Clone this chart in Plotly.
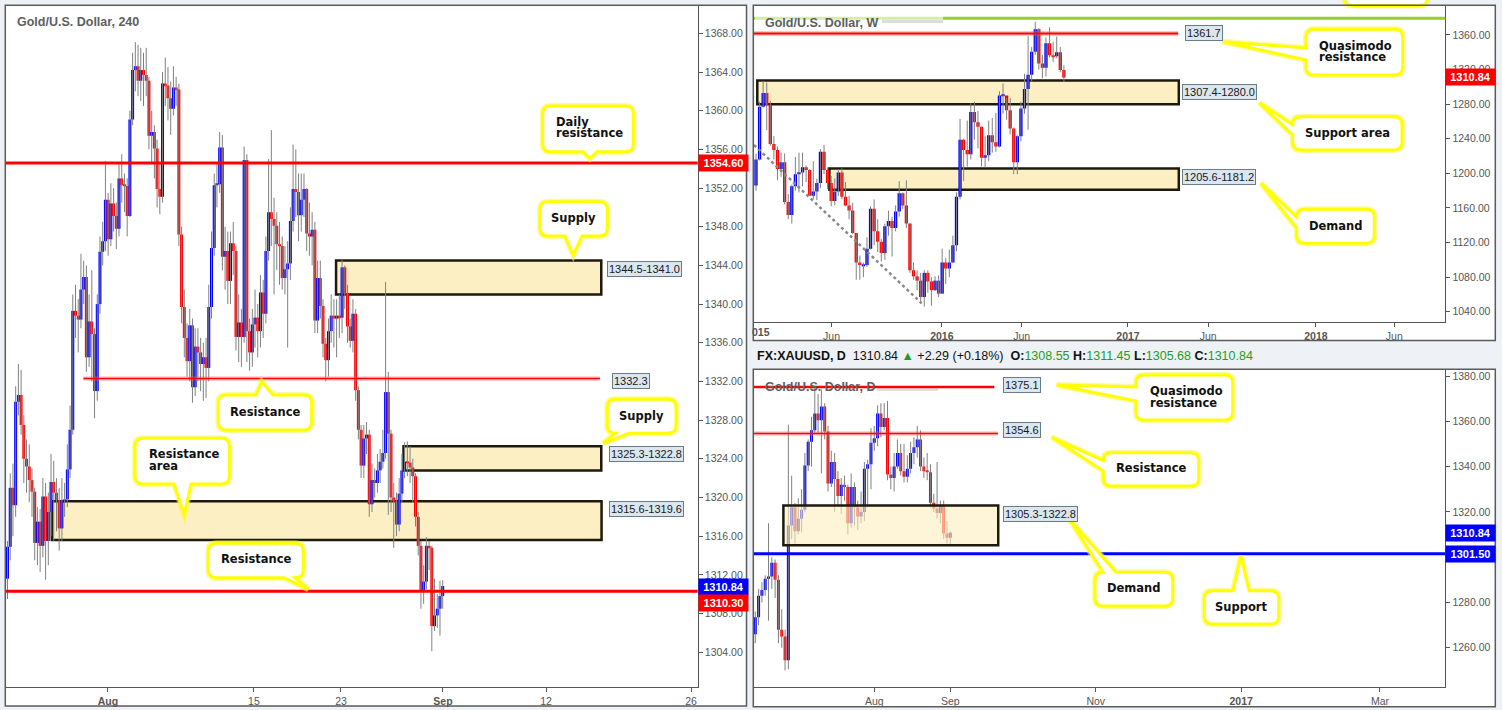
import plotly.graph_objects as go

W, H = 1502, 710

# ======================= DATA =======================
# ---- 4H chart (Gold/U.S. Dollar, 240) ----
h4_first_open = 1311.6
h4_close = [1314.9, 1321.0, 1319.2, 1329.9, 1330.6, 1327.5, 1324.0, 1323.2, 1321.8, 1320.6,
            1315.3, 1317.5, 1315.0, 1320.1, 1315.5, 1318.5, 1321.6, 1320.5, 1319.7, 1316.8,
            1319.6, 1319.8, 1322.9, 1327.0, 1339.3, 1338.8, 1338.4, 1341.5, 1342.8, 1334.5,
            1338.2, 1336.9, 1331.0, 1340.0, 1345.4, 1346.5, 1350.8, 1346.7, 1350.4, 1349.1,
            1347.8, 1353.0, 1352.3, 1352.2, 1349.1, 1359.1, 1364.2, 1364.6, 1363.1, 1364.2,
            1363.7, 1363.1, 1357.4, 1357.8, 1356.1, 1351.9, 1351.1, 1362.8, 1362.6, 1361.3,
            1360.2, 1362.4, 1362.2, 1347.2, 1339.7, 1336.5, 1334.1, 1337.8, 1331.4, 1335.6,
            1335.0, 1333.8, 1334.5, 1333.4, 1339.7, 1345.8, 1352.3, 1352.4, 1356.2, 1344.9,
            1345.5, 1342.4, 1346.3, 1345.5, 1336.6, 1338.1, 1336.6, 1354.9, 1337.2, 1335.0,
            1337.9, 1338.6, 1337.2, 1341.2, 1339.0, 1345.5, 1349.5, 1348.8, 1348.1, 1346.2,
            1346.0, 1342.7, 1343.6, 1344.2, 1348.6, 1351.9, 1351.6, 1349.2, 1350.8, 1351.9,
            1347.3, 1347.0, 1347.7, 1338.3, 1342.7, 1339.8, 1335.9, 1334.2, 1337.2, 1338.8,
            1338.5, 1338.8, 1338.6, 1343.8, 1341.1, 1337.7, 1336.2, 1339.0, 1331.1, 1327.0,
            1323.3, 1326.1, 1326.5, 1319.3, 1321.8, 1321.5, 1322.8, 1323.7, 1324.6, 1330.9,
            1326.6, 1320.0, 1319.6, 1317.2, 1320.4, 1322.8, 1323.7, 1323.6, 1323.1, 1322.2,
            1318.0, 1315.0, 1310.4, 1311.3, 1315.0, 1314.8, 1306.7, 1307.8, 1308.5, 1309.8,
            1310.84]
h4_high = [1315.5, 1322.5, 1323.5, 1331.5, 1333.8, 1333.2, 1328.5, 1326.0, 1325.5, 1323.0,
           1321.0, 1319.0, 1318.8, 1322.0, 1321.5, 1320.5, 1324.5, 1323.8, 1322.0, 1321.0,
           1322.0, 1321.5, 1325.5, 1329.5, 1341.0, 1342.0, 1340.5, 1345.2, 1344.5, 1344.0,
           1341.0, 1343.5, 1337.5, 1341.0, 1347.0, 1348.5, 1354.8, 1351.5, 1352.5, 1352.0,
           1350.5, 1354.5, 1355.5, 1353.5, 1353.0, 1360.0, 1366.0, 1367.1, 1366.8, 1366.5,
           1366.0, 1366.5, 1363.5, 1360.0, 1358.5, 1357.0, 1354.5, 1364.0, 1365.5, 1364.5,
           1363.0, 1364.6, 1363.5, 1362.8, 1348.0, 1341.5, 1338.0, 1339.5, 1338.5, 1337.5,
           1337.5, 1336.5, 1336.0, 1336.5, 1342.0, 1347.5, 1353.5, 1354.5, 1357.8, 1357.5,
           1348.0, 1347.5, 1347.5, 1348.5, 1346.0, 1341.0, 1339.5, 1356.3, 1355.5, 1338.5,
           1339.5, 1341.5, 1340.0, 1343.0, 1342.5, 1347.0, 1355.0, 1358.0, 1351.0, 1349.5,
           1348.5, 1347.0, 1346.0, 1346.5, 1350.0, 1356.5, 1356.0, 1353.5, 1353.5, 1353.5,
           1352.0, 1350.5, 1349.5, 1348.5, 1344.5, 1344.5, 1340.5, 1336.5, 1338.5, 1341.0,
           1340.5, 1340.5, 1341.0, 1344.6, 1344.0, 1342.0, 1338.5, 1340.5, 1339.5, 1331.5,
           1327.5, 1327.5, 1327.8, 1327.0, 1323.5, 1323.0, 1324.5, 1325.0, 1327.0, 1342.3,
           1333.0, 1327.0, 1321.5, 1320.5, 1322.0, 1324.5, 1325.7, 1325.8, 1325.3, 1324.0,
           1322.5, 1318.5, 1315.5, 1313.0, 1315.9, 1315.5, 1315.0, 1311.6, 1310.0, 1311.4,
           1311.45]
h4_low = [1309.5, 1313.5, 1316.0, 1318.0, 1328.5, 1326.5, 1321.5, 1320.5, 1319.5, 1318.0,
          1313.5, 1313.0, 1312.3, 1313.8, 1311.5, 1313.0, 1316.0, 1315.5, 1316.5, 1314.5,
          1315.5, 1318.0, 1319.0, 1322.0, 1326.5, 1336.5, 1335.0, 1337.5, 1340.0, 1333.0,
          1333.5, 1332.0, 1328.2, 1330.0, 1339.0, 1344.0, 1345.5, 1345.0, 1346.0, 1347.5,
          1345.7, 1347.0, 1350.5, 1349.5, 1347.0, 1349.0, 1358.5, 1362.0, 1361.5, 1361.0,
          1360.5, 1361.5, 1356.0, 1354.5, 1353.0, 1350.0, 1349.3, 1350.5, 1360.5, 1359.0,
          1357.5, 1359.5, 1360.5, 1346.0, 1338.0, 1334.5, 1332.5, 1332.0, 1329.8, 1330.5,
          1332.0, 1331.0, 1330.0, 1330.3, 1332.0, 1338.5, 1345.0, 1350.0, 1351.5, 1343.5,
          1341.5, 1340.0, 1340.0, 1343.0, 1335.2, 1334.0, 1333.5, 1336.0, 1334.0, 1333.1,
          1333.5, 1335.5, 1334.5, 1335.5, 1336.5, 1338.0, 1344.5, 1346.0, 1341.0, 1343.5,
          1342.0, 1341.5, 1341.0, 1335.5, 1342.5, 1347.5, 1349.0, 1346.5, 1347.5, 1349.0,
          1345.5, 1345.0, 1344.0, 1337.0, 1337.0, 1338.5, 1334.5, 1332.0, 1332.5, 1336.0,
          1335.5, 1334.5, 1336.5, 1337.0, 1339.5, 1336.0, 1335.5, 1335.0, 1330.0, 1326.0,
          1322.0, 1322.0, 1324.5, 1318.0, 1318.5, 1320.0, 1320.5, 1321.5, 1323.0, 1324.0,
          1318.2, 1318.5, 1314.8, 1316.0, 1316.5, 1319.5, 1322.0, 1322.2, 1321.5, 1319.5,
          1317.0, 1314.0, 1308.5, 1309.0, 1310.5, 1312.5, 1304.1, 1306.2, 1306.5, 1305.7,
          1308.5]
h4_tick_pos = [36.9, 90.6, 122.6, 160.1, 198.0, 251.3]
h4_tick_text = ['<b>Aug</b>', '15', '23', '<b>Sep</b>', '12', '26']
h4_yticks = [1304, 1308, 1312, 1316, 1320, 1324, 1328, 1332, 1336, 1340, 1344, 1348,
             1352, 1356, 1360, 1364, 1368]
h4_daily_res = 1354.6
h4_res_line = 1332.3
h4_res = 1310.3
h4_supply_hi = (1344.5, 1341.0)
h4_supply_lo = (1325.3, 1322.8)
h4_res_area = (1319.6, 1315.6)
last_price = 1310.84

# ---- Weekly chart (Gold/U.S. Dollar, W) ----
w_first_open = 1186
w_close = [1216, 1277, 1293, 1279, 1234, 1227, 1205, 1213, 1167, 1152,
           1185, 1199, 1201, 1207, 1204, 1174, 1179, 1189, 1225, 1204,
           1189, 1168, 1179, 1201, 1173, 1163, 1157, 1131, 1097, 1094,
           1094, 1113, 1159, 1133, 1121, 1108, 1139, 1145, 1137, 1156,
           1177, 1163, 1142, 1088, 1081, 1076, 1057, 1085, 1075, 1065,
           1076, 1061, 1097, 1090, 1097, 1117, 1173, 1239, 1227, 1222,
           1271, 1259, 1254, 1218, 1221, 1244, 1236, 1231, 1290, 1290,
           1273, 1252, 1213, 1243, 1275, 1297.5, 1314, 1340.5, 1366.5, 1327,
           1322, 1350.5, 1336.5, 1335.5, 1340, 1319.5, 1310.84]
w_high = [1223, 1283, 1307, 1305, 1284, 1243, 1231, 1224, 1223, 1176,
          1187, 1219, 1224, 1224, 1209, 1205, 1214, 1194, 1228, 1233,
          1207, 1197, 1194, 1205, 1206, 1190, 1174, 1166, 1131, 1105,
          1097, 1126, 1162, 1170, 1147, 1124, 1142, 1157, 1150, 1163,
          1191, 1178, 1192, 1142, 1097, 1088, 1085, 1088, 1088, 1080,
          1081, 1082, 1113, 1102, 1112, 1128, 1178, 1263, 1240, 1261,
          1281, 1283, 1272, 1254, 1243, 1261, 1264, 1270, 1295, 1304,
          1287, 1287, 1253, 1244, 1283, 1315, 1358.5, 1346, 1375, 1368,
          1337, 1357, 1369, 1352, 1358, 1346, 1325]
w_low = [1180, 1215, 1276, 1250, 1232, 1216, 1192, 1196, 1164, 1147,
         1142, 1180, 1178, 1185, 1190, 1174, 1170, 1169, 1183, 1199,
         1182, 1162, 1163, 1174, 1170, 1162, 1147, 1130, 1077, 1077,
         1080, 1092, 1112, 1117, 1109, 1098, 1100, 1128, 1104, 1133,
         1150, 1159, 1137, 1085, 1077, 1065, 1052, 1046, 1062, 1047,
         1064, 1057, 1061, 1072, 1080, 1096, 1110, 1170, 1191, 1208,
         1216, 1239, 1229, 1208, 1207, 1214, 1224, 1225, 1230, 1269,
         1262, 1245, 1199, 1199, 1237, 1269, 1250.5, 1306, 1337, 1320,
         1310, 1312, 1334, 1329, 1333, 1317, 1305.68]
w_tick_pos = [-0.6, 21.1, 51.9, 74.2, 103.9, 126.3, 156.4, 178.3]
w_tick_text = ['', 'Jun', '<b>2016</b>', 'Jun', '<b>2017</b>', 'Jun', '<b>2018</b>', 'Jun']
w_yticks = [1040, 1080, 1120, 1160, 1200, 1240, 1280, 1320, 1360]
w_green = 1379.3
w_qm_res = 1361.7
w_support_area = (1307.4, 1280.0)
w_demand = (1205.6, 1181.2)
w_trend = (1232.8, 1049.8)

# ---- Daily chart (Gold/U.S. Dollar, D) ----
d_first_open = 1266
d_close = [1273.5, 1283, 1285.5, 1290.5, 1291.5, 1297.5, 1290, 1268, 1265, 1254.5,
           1314, 1322, 1311.5, 1317, 1321, 1340.5, 1351, 1356, 1363.5, 1360.5,
           1366.5, 1355.5, 1332.5, 1342, 1334.5, 1327, 1332, 1331, 1315, 1331,
           1322, 1318, 1320, 1339, 1341, 1350.5, 1352.5, 1363.5, 1357.5, 1361.5,
           1336.5, 1335, 1340, 1346, 1338, 1335.5, 1339, 1346, 1348.5, 1352,
           1340, 1338, 1337.5, 1324, 1321.5, 1319.5, 1323, 1310.5, 1308.55, 1310.84]
d_high = [1276, 1286, 1289, 1292, 1315, 1300, 1299, 1292, 1277, 1268,
          1358.5, 1336, 1324, 1326, 1330, 1346, 1352, 1362, 1375, 1372,
          1374, 1368, 1358, 1347, 1346, 1338, 1335, 1336, 1332, 1337,
          1333, 1325, 1329, 1342, 1343, 1357, 1358, 1367, 1368, 1368,
          1369, 1340, 1346, 1352, 1350, 1350, 1345, 1351, 1353, 1358,
          1356, 1344, 1346, 1341, 1328, 1342, 1325, 1325, 1316, 1311.45]
d_low = [1262, 1270, 1280, 1283, 1272, 1286, 1282, 1262, 1260, 1250,
         1250.5, 1308, 1306, 1310, 1311, 1320, 1338, 1340, 1355, 1355,
         1337, 1352, 1329, 1331, 1320, 1323, 1319, 1325, 1310, 1313,
         1314, 1312, 1315, 1316, 1322, 1330, 1347, 1349, 1353, 1356,
         1334, 1330, 1329, 1339, 1336, 1333, 1333, 1337, 1341, 1344,
         1338, 1335, 1334, 1322, 1320, 1317, 1315, 1308, 1306, 1305.68]
d_tick_pos = [36, 59, 103, 147, 189]
d_tick_text = ['Aug', 'Sep', 'Nov', '<b>2017</b>', 'Mar']
d_yticks = [1260, 1280, 1320, 1340, 1360, 1380]
d_qm_res = 1375.1
d_res = 1354.6
d_support = 1301.5
d_demand = (1322.8, 1305.3)

# ======================= HELPERS =======================
def px(x):
    return x / W


def py(y):
    return 1 - y / H


fig = go.Figure()


def add_candles(first_open, closes, highs, lows, xa, ya, width, min_body):
    opens = [first_open] + closes[:-1]
    idx = list(range(len(closes)))
    wx, wy = [], []
    for i, (hi, lo) in enumerate(zip(highs, lows)):
        wx += [i, i, None]
        wy += [lo, hi, None]
    fig.add_trace(go.Scatter(x=wx, y=wy, mode='lines', line=dict(color='#808080', width=1),
                             xaxis=xa, yaxis=ya, hoverinfo='skip', showlegend=False))
    bases, sizes, cols = [], [], []
    for o, c in zip(opens, closes):
        s = abs(c - o)
        b = min(o, c)
        if s < min_body:
            b = (o + c) / 2 - min_body / 2
            s = min_body
        bases.append(b)
        sizes.append(s)
        cols.append('#0000ff' if c >= o else '#ff0000')
    fig.add_trace(go.Bar(x=idx, y=sizes, base=bases, width=width,
                         marker=dict(color=cols, line=dict(width=0)),
                         xaxis=xa, yaxis=ya, hoverinfo='skip', showlegend=False))


add_candles(h4_first_open, h4_close, h4_high, h4_low, 'x', 'y', 1.1, 0.12)
add_candles(w_first_open, w_close, w_high, w_low, 'x2', 'y2', 0.92, 1.4)
add_candles(d_first_open, d_close, d_high, d_low, 'x3', 'y3', 0.9, 0.45)

# weekly dotted trend line (from data points)
fig.add_trace(go.Scatter(x=[-0.56, 46.28], y=list(w_trend), mode='lines',
                         line=dict(color='#8a8a8a', width=2.5, dash='dot'),
                         xaxis='x2', yaxis='y2', hoverinfo='skip', showlegend=False))

AX_FONT = dict(family='Liberation Sans, Arial, sans-serif', size=10.5, color='#555555')


def yax(domain, rng, tickvals, anchor):
    return dict(domain=domain, range=rng, side='right', anchor=anchor, tickmode='array',
                tickvals=tickvals, ticktext=[f'{v:.2f}' for v in tickvals], ticks='outside',
                ticklen=4, tickcolor='#555555', showline=True, linecolor='#555555',
                linewidth=1, showgrid=False, zeroline=False, tickfont=AX_FONT, fixedrange=True)


def xax(domain, rng, tickvals, ticktext, anchor):
    return dict(domain=domain, range=rng, anchor=anchor, tickmode='array', tickvals=tickvals,
                ticktext=ticktext, ticks='outside', ticklen=4, tickcolor='#555555',
                showline=True, linecolor='#555555', linewidth=1, showgrid=False,
                zeroline=False, tickfont=AX_FONT, fixedrange=True)


shapes = []
annotations = []

# panels
panels = [(5.3, 5.3, 746.5, 706), (753.3, 5.3, 1495.3, 340.5), (753.3, 369.3, 1495.3, 706.7)]
for (x0, y0, x1, y1) in panels:
    shapes.append(dict(type='rect', xref='paper', yref='paper', x0=px(x0), x1=px(x1),
                       y0=py(y1), y1=py(y0), fillcolor='white', line=dict(width=0), layer='below'))


def zone(xr, yr, x0, x1, top, bot, layer, fill):
    shapes.append(dict(type='rect', xref=xr, yref=yr, x0=x0, x1=x1, y0=bot, y1=top,
                       fillcolor=fill, line=dict(color='#1d1a0c', width=2.5), layer=layer))


def hline(xr, yr, x0, x1, y, color, width, halo=False):
    if halo:
        shapes.append(dict(type='line', xref=xr, yref=yr, x0=x0, x1=x1, y0=y, y1=y,
                           line=dict(color='rgba(255,90,90,0.35)', width=width + 3), layer='above'))
    shapes.append(dict(type='line', xref=xr, yref=yr, x0=x0, x1=x1, y0=y, y1=y,
                       line=dict(color=color, width=width), layer='above'))


ZFILL = '#fdefc4'
# 4H zones / lines
zone('x', 'y', 120.8, 218.3, h4_supply_hi[0], h4_supply_hi[1], 'below', ZFILL)
zone('x', 'y', 145.6, 218.3, h4_supply_lo[0], h4_supply_lo[1], 'below', ZFILL)
zone('x', 'y', 16.3, 218.4, h4_res_area[0], h4_res_area[1], 'below', ZFILL)
hline('x domain', 'y', 0, 1, h4_daily_res, '#ff0000', 3)
hline('x', 'y', 27.9, 217.8, h4_res_line, '#ff0000', 1.5, halo=True)
hline('x domain', 'y', 0, 1, h4_res, '#ff0000', 3)

# Weekly zones / lines
zone('x2', 'y2', 0.36, 118.1, w_support_area[0], w_support_area[1], 'below', ZFILL)
zone('x2', 'y2', 20.5, 118.1, w_demand[0], w_demand[1], 'below', ZFILL)
hline('x2 domain', 'y2', 0, 1, w_green, '#9acd32', 3)
hline('x2 domain', 'y2', 0, 0.614, w_qm_res, '#ff0000', 2, halo=True)

# Daily zones / lines
zone('x3', 'y3', 8.5, 73.5, d_demand[0], d_demand[1], 'above', 'rgba(253,236,190,0.6)')
hline('x3', 'y3', -0.6, 72.3, d_qm_res, '#ff0000', 2.5)
hline('x3', 'y3', -0.4, 73.4, d_res, '#ff0000', 1.5, halo=True)
hline('x3 domain', 'y3', 0, 1, d_support, '#0000ff', 3)

# title backdrop / shadows
shapes.append(dict(type='rect', xref='paper', yref='paper', x0=px(755), x1=px(943),
                   y0=py(22), y1=py(11), fillcolor='rgba(255,255,255,0.6)', line=dict(width=0),
                   layer='above'))
shapes.append(dict(type='rect', xref='paper', yref='paper', x0=px(882), x1=px(943),
                   y0=py(23), y1=py(20), fillcolor='rgba(120,120,120,0.25)', line=dict(width=0),
                   layer='above'))
shapes.append(dict(type='rect', xref='paper', yref='paper', x0=px(877), x1=px(938),
                   y0=py(391), y1=py(388), fillcolor='rgba(120,120,120,0.25)', line=dict(width=0),
                   layer='above'))


# callouts
def callout_path(x0, y0, x1, y1, side, p1, p2, tx, ty, r=8):
    def P(x, y):
        return f'{x / W:.5f},{1 - y / H:.5f}'
    s = 'M' + P(x0 + r, y0)
    if side == 'top':
        s += ' L' + P(p1, y0) + ' L' + P(tx, ty) + ' L' + P(p2, y0)
    s += ' L' + P(x1 - r, y0) + ' Q' + P(x1, y0) + ' ' + P(x1, y0 + r)
    if side == 'right':
        s += ' L' + P(x1, p1) + ' L' + P(tx, ty) + ' L' + P(x1, p2)
    s += ' L' + P(x1, y1 - r) + ' Q' + P(x1, y1) + ' ' + P(x1 - r, y1)
    if side == 'bottom':
        s += ' L' + P(p2, y1) + ' L' + P(tx, ty) + ' L' + P(p1, y1)
    s += ' L' + P(x0 + r, y1) + ' Q' + P(x0, y1) + ' ' + P(x0, y1 - r)
    if side == 'left':
        s += ' L' + P(x0, p2) + ' L' + P(tx, ty) + ' L' + P(x0, p1)
    s += ' L' + P(x0, y0 + r) + ' Q' + P(x0, y0) + ' ' + P(x0 + r, y0) + ' Z'
    return s


callouts = [
    (542.7, 106, 633.3, 151.7, 'bottom', 583, 597, 590, 158.5),
    (540, 201.7, 607.3, 236, 'bottom', 565, 582, 573.3, 255),
    (218.3, 395, 311.7, 430, 'top', 256, 273, 261.7, 381.7),
    (607.3, 399.3, 676, 433.3, 'bottom', 615.3, 629, 603.3, 443.3),
    (135, 438.3, 229.3, 484, 'bottom', 174, 191, 184.3, 515),
    (208.3, 543.3, 303.3, 577.7, 'bottom', 284, 295, 308.3, 589.3),
    (1306, 29.3, 1402.7, 75, 'left', 48, 60, 1222.7, 41.7),
    (1292.7, 116.7, 1402, 150, 'left', 124.7, 135, 1259.3, 102.7),
    (1296.7, 209.3, 1374.3, 243.3, 'left', 217.3, 228, 1261, 183.3),
    (1136, 375, 1232.7, 420, 'left', 387, 401, 1056.7, 385),
    (1103.3, 452.7, 1198.7, 486, 'left', 460.7, 471, 1051.7, 437.3),
    (1095, 572.3, 1172.7, 606, 'top', 1103, 1116, 1070, 520),
    (1204.3, 590.7, 1278.7, 624, 'top', 1233, 1249, 1241, 556),
    (1344.5, -40, 1427.5, 5.5, 'none', 0, 0, 0, 0),
]
for c in callouts:
    path = callout_path(*c)
    shapes.append(dict(type='path', xref='paper', yref='paper', path=path,
                       fillcolor='white', line=dict(color='rgba(245,245,90,0.55)', width=6),
                       layer='above'))
    shapes.append(dict(type='path', xref='paper', yref='paper', path=path,
                       fillcolor='white', line=dict(color='#ffff00', width=3), layer='above'))

# frames on top
for (x0, y0, x1, y1) in panels:
    shapes.append(dict(type='rect', xref='paper', yref='paper', x0=px(x0), x1=px(x1),
                       y0=py(y1), y1=py(y0), fillcolor='rgba(0,0,0,0)',
                       line=dict(color='#5b5b5b', width=1.5), layer='above'))

# callout texts
CFONT = dict(family='DejaVu Sans, Verdana, sans-serif', size=11.5, color='#111111')
ctexts = [
    ('Daily', 554, 121.5, 'left'), ('resistance', 554, 133.5, 'left'),
    ('Supply', 573.7, 218.3, 'center'),
    ('Resistance', 265, 411.7, 'center'),
    ('Supply', 641.5, 415.7, 'center'),
    ('Resistance', 146.7, 454.3, 'left'), ('area', 146.7, 465.7, 'left'),
    ('Resistance', 256, 559.3, 'center'),
    ('Quasimodo', 1317, 45.7, 'left'), ('resistance', 1317, 57.3, 'left'),
    ('Support area', 1347, 132.7, 'center'),
    ('Demand', 1336, 225.7, 'center'),
    ('Quasimodo', 1147.7, 390.7, 'left'), ('resistance', 1147.7, 402.7, 'left'),
    ('Resistance', 1151.3, 468.3, 'center'),
    ('Demand', 1134.3, 588.3, 'center'),
    ('Support', 1241.8, 606.7, 'center'),
]
for t, x, y, anc in ctexts:
    annotations.append(dict(text=f'<b>{t}</b>', xref='paper', yref='paper', x=px(x), y=py(y),
                            xanchor=anc, yanchor='middle', showarrow=False, font=CFONT))

# level label boxes
LFONT = dict(family='Liberation Sans, Arial, sans-serif', size=11, color='#1a1a1a')
levels = [
    ('1344.5-1341.0', 607.3, 'y', h4_supply_hi[0], 'top', 0),
    ('1332.3', 611.7, 'y', h4_res_line, 'middle', -2),
    ('1325.3-1322.8', 608.7, 'y', h4_supply_lo[0], 'top', 0),
    ('1315.6-1319.6', 608.7, 'y', h4_res_area[0], 'top', 0),
    ('1361.7', 1184.7, 'y2', w_qm_res, 'middle', 0),
    ('1307.4-1280.0', 1181.7, 'y2', w_support_area[0], 'top', -3.5),
    ('1205.6-1181.2', 1181.7, 'y2', w_demand[0], 'top', 0),
    ('1375.1', 1003.3, 'y3', d_qm_res, 'middle', 2),
    ('1354.6', 1003.3, 'y3', d_res, 'middle', 4),
    ('1305.3-1322.8', 1003.3, 'y3', d_demand[0], 'top', 0),
]
for t, x, yr, yv, anc, sh in levels:
    annotations.append(dict(text=t, xref='paper', yref=yr, x=px(x), y=yv, xanchor='left',
                            yanchor=anc, yshift=sh, showarrow=False, font=LFONT,
                            bgcolor='#dce6ee', bordercolor='#687d8c', borderwidth=1, borderpad=1))

# price tags
TFONT = dict(family='Liberation Sans, Arial, sans-serif', size=11, color='white')
tags = [
    ('1354.60', 697.7, 'y', h4_daily_res, '#ff0000', 0),
    ('1310.84', 697.7, 'y', last_price, '#0000ff', -1),
    ('1310.30', 697.7, 'y', h4_res, '#ff0000', -11.5),
    ('1310.84', 1445.3, 'y2', last_price, '#ff0000', 0),
    ('1310.84', 1445.3, 'y3', last_price, '#0000ff', 0),
    ('1301.50', 1445.3, 'y3', d_support, '#0000ff', 0),
]
for t, x, yr, yv, col, sh in tags:
    annotations.append(dict(text=f'<b>{t}</b>', xref='paper', yref=yr, x=px(x), y=yv,
                            xanchor='left', yanchor='middle', yshift=sh, showarrow=False,
                            font=TFONT, bgcolor=col, borderpad=1.5, width=46, height=12.5,
                            align='center'))

# titles
TT = dict(family='Liberation Sans, Arial, sans-serif', size=12.5, color='#5e5e5e')
for t, x, y in [('Gold/U.S. Dollar, 240', 15, 22.5), ('Gold/U.S. Dollar, W', 763, 23),
                ('Gold/U.S. Dollar, D', 763, 387)]:
    annotations.append(dict(text=f'<b>{t}</b>', xref='paper', yref='paper', x=px(x), y=py(y),
                            xanchor='left', yanchor='middle', showarrow=False, font=TT))

# truncated weekly year label at left edge
annotations.append(dict(text='<b>015</b>', xref='paper', yref='paper', x=px(750), y=py(332),
                        xanchor='left', yanchor='middle', showarrow=False, font=AX_FONT))

# daily header line
G = '#1e9e1e'
nb = '\u00a0'
header = (f"<b>FX:XAUUSD, D</b>{nb}{nb}1310.84{nb}<span style='color:{G}'>▲</span>"
          f"{nb}+2.29 (+0.18%){nb}{nb}<b>O:</b><span style='color:{G}'>1308.55</span>"
          f"{nb}<b>H:</b><span style='color:{G}'>1311.45</span>"
          f"{nb}<b>L:</b><span style='color:{G}'>1305.68</span>"
          f"{nb}<b>C:</b><span style='color:{G}'>1310.84</span>")
annotations.append(dict(text=header, xref='paper', yref='paper', x=px(755), y=py(355.7),
                        xanchor='left', yanchor='middle', showarrow=False,
                        font=dict(family='Liberation Sans, Arial, sans-serif', size=12.5,
                                  color='#111111')))

fig.update_layout(
    width=W, height=H, autosize=False,
    margin=dict(l=0, r=0, t=0, b=0),
    paper_bgcolor='#eef1f5', plot_bgcolor='white',
    barmode='overlay', showlegend=False,
    xaxis=xax([px(6), px(697.7)], [-0.55, 253.75], h4_tick_pos, h4_tick_text, 'y'),
    yaxis=yax([py(687), py(5.3)], [1300.4, 1370.9], h4_yticks, 'x'),
    xaxis2=xax([px(753.3), px(1445.3)], [-0.754, 192.54], w_tick_pos, w_tick_text, 'y2'),
    yaxis2=yax([py(322), py(5.3)], [1028.2, 1394.3], w_yticks, 'x2'),
    xaxis3=xax([px(753.3), px(1445.3)], [-0.605, 208.77], d_tick_pos, d_tick_text, 'y3'),
    yaxis3=yax([py(687.3), py(369.3)], [1242.56, 1382.96], d_yticks, 'x3'),
    shapes=shapes,
    annotations=annotations,
)

fig.write_html("out.html", config={'displayModeBar': False},
               post_script="document.body.style.margin='0';document.body.style.overflow='hidden';")
